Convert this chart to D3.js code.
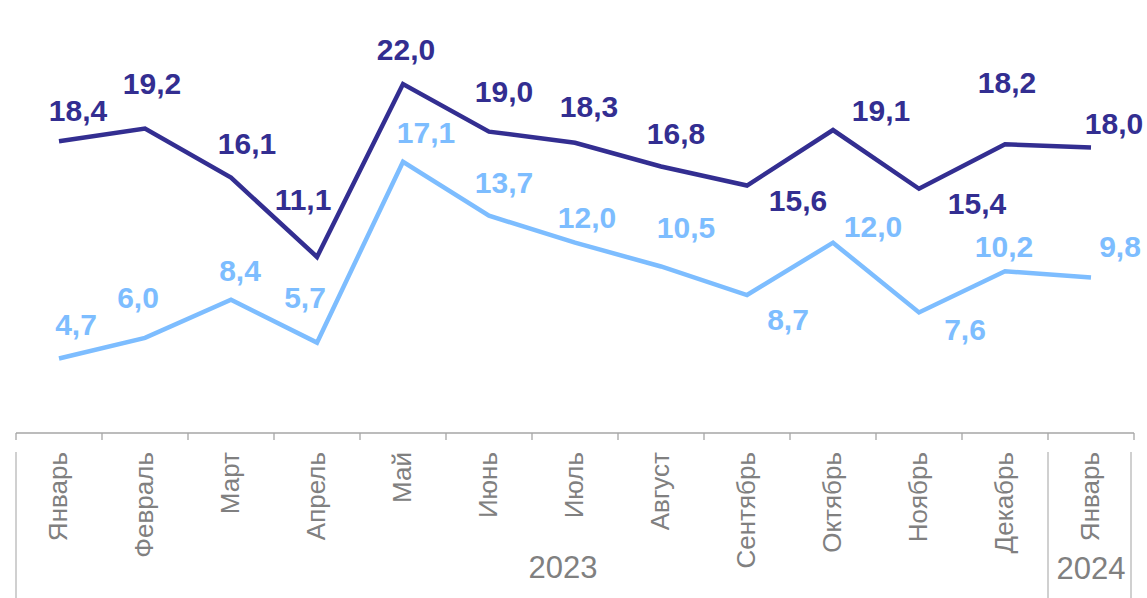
<!DOCTYPE html>
<html>
  <head>
    <meta charset="utf-8">
    <title>Line chart</title>
<style>
body { margin: 0; background: #fff; }
.line { fill: none; stroke-width: 4.5px; stroke-linejoin: miter; }
.val { font: bold 30px "Liberation Sans", Arial, sans-serif; text-anchor: middle; }
.month { font: 26px "Liberation Sans", Arial, sans-serif; fill: #808080; text-anchor: end; }
.year { font: 31px "Liberation Sans", Arial, sans-serif; fill: #808080; text-anchor: middle; }
</style>
    <script src="https://cdn.jsdelivr.net/npm/d3@7"></script>
  </head>
  <body>
    <script type="text/javascript">

var months = ["Январь", "Февраль", "Март", "Апрель", "Май", "Июнь", "Июль", "Август",
              "Сентябрь", "Октябрь", "Ноябрь", "Декабрь", "Январь "];
var darkValues = [18.4, 19.2, 16.1, 11.1, 22.0, 19.0, 18.3, 16.8, 15.6, 19.1, 15.4, 18.2, 18.0];
var lightValues = [4.7, 6.0, 8.4, 5.7, 17.1, 13.7, 12.0, 10.5, 8.7, 12.0, 7.6, 10.2, 9.8];
var years = ["2023", "2024"];

// label offsets from the point (dx, dy to text centre), as placed in the original
var darkLabelOffsets = [[19, -31], [7, -45], [16, -34], [-14, -58], [3, -35], [15, -40], [14, -37], [15, -33],
                        [51, 15], [48, -20], [58, 14], [2, -62], [23, -24]];
var lightLabelOffsets = [[17, -34], [-7, -41], [9, -30], [-12, -45], [23, -30], [15, -34], [12, -25], [25, -39],
                         [41, 24], [40, -16], [46, 17], [-1, -25], [29, -31]];

var darkColor = "#332e91", lightColor = "#7dbdff";

var width = 1147, height = 598;
var axisY = 433, left = 16, right = 1134;

var svg = d3.select("body").append("svg")
    .attr("width", width)
    .attr("height", height);

var x = d3.scaleBand().domain(d3.range(months.length)).range([left, right]);
var y = d3.scaleLinear().domain([0, 27.3]).range([axisY, 0]);

var line = d3.line()
    .x(function(d, i) { return x(i) + x.bandwidth() / 2; })
    .y(function(d) { return y(d); });

// axis line and ticks
var axis = svg.append("g")
    .attr("transform", "translate(0," + axisY + ")")
    .call(d3.axisBottom(x).tickSize(0).tickFormat(""));
axis.select(".domain").attr("stroke", "#a6a6a6").attr("stroke-width", 1.3).attr("d", "M" + left + ",0H" + right);

var tickPos = d3.range(months.length + 1).map(function(i) { return left + i * x.bandwidth(); });
svg.selectAll(".tick-mark").data(tickPos).enter().append("line")
    .attr("x1", function(d) { return d; }).attr("x2", function(d) { return d; })
    .attr("y1", axisY).attr("y2", axisY + 7)
    .attr("stroke", "#a6a6a6").attr("stroke-width", 1.3);

// year group separators
var groupLines = [left, x(12), right - 3];
svg.selectAll(".grp").data(groupLines).enter().append("line")
    .attr("x1", function(d) { return d; }).attr("x2", function(d) { return d; })
    .attr("y1", 452).attr("y2", 598)
    .attr("stroke", "#c0c0c0").attr("stroke-width", 1.5);

// month labels
svg.selectAll(".month").data(months).enter().append("text")
    .attr("class", "month")
    .attr("transform", function(d, i) {
      return "translate(" + (x(i) + x.bandwidth() / 2 + 8) + ",452) rotate(-90)";
    })
    .text(function(d) { return d.trim(); });

// year labels
svg.append("text").attr("class", "year").attr("x", 563).attr("y", 578).text(years[0]);
svg.append("text").attr("class", "year").attr("x", x(12) + x.bandwidth() / 2).attr("y", 579).text(years[1]);

// lines
svg.append("path").datum(lightValues).attr("class", "line").attr("stroke", lightColor).attr("d", line);
svg.append("path").datum(darkValues).attr("class", "line").attr("stroke", darkColor).attr("d", line);

function addLabels(values, offsets, color) {
  svg.append("g").selectAll("text").data(values).enter().append("text")
      .attr("class", "val")
      .attr("fill", color)
      .attr("x", function(d, i) { return x(i) + x.bandwidth() / 2 + offsets[i][0]; })
      .attr("y", function(d, i) { return y(d) + offsets[i][1]; })
      .attr("dy", "0.36em")
      .text(function(d) { return d.toFixed(1).replace(".", ","); });
}
addLabels(lightValues, lightLabelOffsets, lightColor);
addLabels(darkValues, darkLabelOffsets, darkColor);

    </script>
  </body>
</html>
